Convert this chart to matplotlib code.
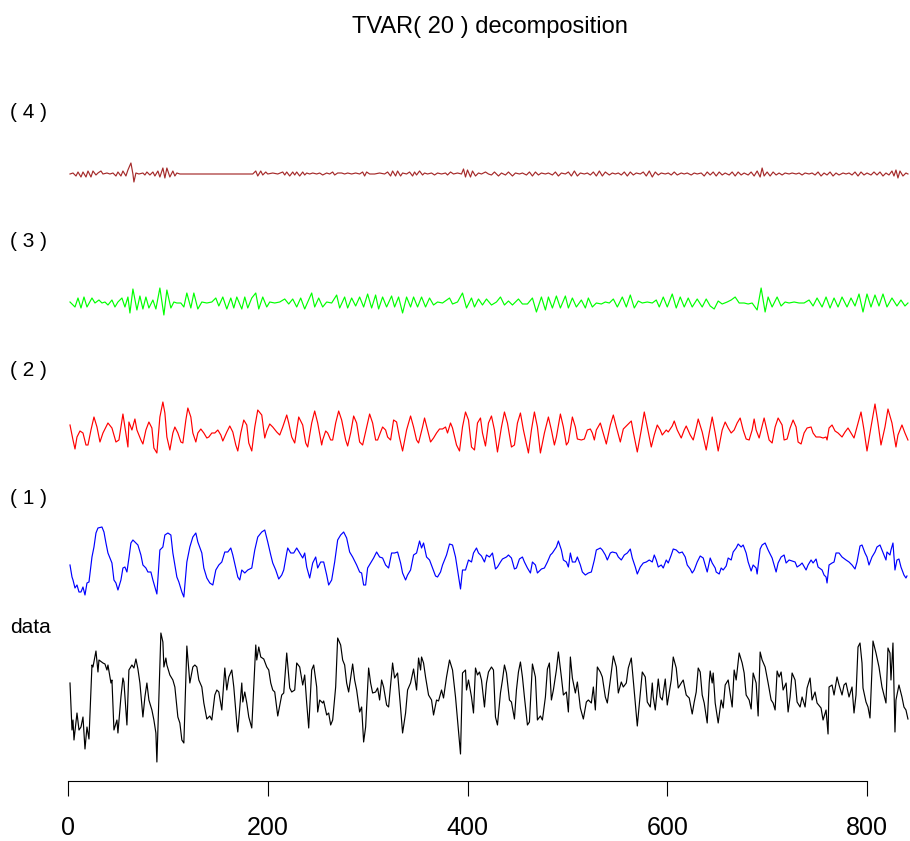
import matplotlib
matplotlib.use("Agg")
import matplotlib.pyplot as plt

# ---------------- data ----------------
tick_values = [0, 200, 400, 600, 800]
tick_labels = ["0", "200", "400", "600", "800"]
series_labels = ["data", "( 1 )", "( 2 )", "( 3 )", "( 4 )"]
title_text = "TVAR( 20 ) decomposition"

data_t = [2,4,5,6,9,11,13,15,17,19,21,24,25,28,30,31,35,37,39,40,43,44,46,49,50,53,55,56,59,61,64,66,68,70,72,75,77,79,81,84,86,88,89,93,95,96,98,99,102,105,107,110,112,114,116,119,122,125,127,129,131,134,136,139,142,144,147,149,151,154,157,159,161,164,166,169,170,174,175,177,179,181,184,188,189,191,193,196,199,201,203,205,207,210,214,216,219,222,224,227,229,232,235,237,239,241,244,246,249,250,252,255,256,259,261,263,265,268,270,273,275,277,279,281,285,287,289,292,294,296,298,301,303,305,308,310,312,314,316,319,321,325,327,330,333,335,338,340,343,346,349,351,353,354,356,358,361,364,366,369,371,374,376,379,382,385,388,390,393,395,398,399,401,404,406,408,410,412,414,417,419,421,424,426,428,430,433,435,437,439,442,444,447,449,451,453,455,457,460,462,465,468,470,473,475,478,480,482,484,486,489,491,494,496,499,501,503,505,508,510,513,516,519,521,524,526,528,530,533,535,538,540,543,546,549,551,554,556,559,561,564,566,568,570,573,575,578,580,583,585,586,588,591,593,595,598,600,604,606,609,611,614,616,619,622,625,627,629,631,633,635,637,640,642,643,645,646,648,651,654,656,658,661,665,667,669,672,675,677,679,682,684,686,689,691,693,695,698,701,704,706,708,710,712,714,716,719,721,723,725,728,730,733,735,738,740,743,745,748,750,754,756,759,761,762,765,767,770,772,775,777,779,782,785,787,789,791,793,795,796,799,801,803,805,806,809,812,815,819,821,823,824,826,828,829,832,835,837,839,841]
data_v = [17,-30,-20,-40,-13,-30,-27,-17,-49,-27,-39,35,33,49,28,40,37,36,30,35,17,20,-30,-20,-33,3,22,18,-25,30,35,32,41,31,17,-17,3,17,0,-10,-20,-33,-62,67,58,33,42,35,25,20,13,-17,-23,-40,-43,54,17,33,35,33,20,13,-3,-19,-16,-20,5,10,8,-10,32,10,23,30,13,-23,-32,17,-2,8,-3,-17,-28,55,40,53,43,41,33,30,17,10,8,-16,5,7,47,12,8,10,37,33,15,25,-3,-28,30,35,13,-12,0,-3,-1,-15,-13,-25,-20,13,62,55,40,35,17,8,36,20,10,-12,-7,-42,-27,32,17,7,8,12,0,20,13,-5,-7,37,22,27,-8,-33,-13,10,17,31,10,42,30,43,37,23,5,0,-15,0,-1,10,2,23,40,30,3,-20,-54,27,30,10,20,3,-13,32,25,28,20,-7,17,28,33,30,-17,-25,7,20,35,27,0,-2,-19,10,28,38,23,3,-25,-22,36,23,-20,-16,-20,3,31,37,0,10,30,48,23,5,8,-12,43,22,7,18,-8,-19,-2,0,-3,13,-10,33,28,23,3,-3,20,44,33,7,18,13,17,32,42,20,-3,-26,7,28,23,-2,-7,17,3,-10,21,3,0,21,-5,20,43,32,12,17,20,5,2,-14,-2,8,32,28,5,-3,-23,17,29,17,27,-3,-23,0,-8,15,20,-7,30,20,47,37,27,5,0,-9,27,17,-16,48,40,33,17,0,-3,-10,29,23,28,10,17,-12,3,27,20,-2,-7,3,-7,12,22,0,8,-3,-8,-20,-10,-34,13,15,5,23,15,5,15,17,3,13,-13,5,53,57,37,12,-2,-7,-18,31,59,47,33,13,-3,52,47,20,57,-32,0,15,3,-7,-10,-19]

c1_t = [2,4,5,7,9,11,13,15,17,19,21,24,26,28,30,34,36,38,40,44,46,48,50,53,55,57,59,61,63,65,68,70,73,75,78,80,83,85,87,89,92,95,97,100,103,105,109,111,114,116,119,122,125,128,130,134,136,139,142,145,148,151,154,157,160,163,165,168,170,172,174,177,180,184,187,190,194,197,200,203,205,208,211,214,216,219,220,223,226,229,232,235,237,239,242,245,248,250,253,256,259,261,264,267,270,273,276,279,282,285,289,292,294,296,298,300,303,306,309,312,315,318,321,324,327,330,333,335,338,340,343,346,349,352,354,356,359,362,365,368,370,373,375,379,382,385,388,390,393,395,398,401,404,406,409,411,414,417,419,422,425,428,430,433,435,439,441,444,447,449,452,455,457,460,463,465,468,470,474,477,480,483,485,489,491,494,496,499,501,503,505,508,510,513,515,518,521,524,527,529,533,535,538,540,543,545,549,551,554,557,560,563,565,568,570,573,576,579,582,585,587,589,591,594,596,599,601,604,606,609,612,615,618,620,623,625,627,630,633,636,638,640,643,645,648,649,652,654,656,659,661,664,666,669,671,674,676,679,681,684,686,689,690,693,695,698,701,705,707,709,711,714,717,719,722,725,728,730,733,735,739,741,744,746,749,751,755,757,759,760,762,765,767,769,772,775,779,782,785,788,790,793,795,798,800,802,805,808,810,813,815,819,820,823,824,826,828,830,832,834,837,839,840]
c1_v = [5,-7,-10,-18,-15,-22,-22,-17,-25,-13,-12,13,23,37,42,43,38,27,17,7,-10,-13,-20,-10,2,3,-2,12,27,30,27,25,15,5,2,-2,-2,-10,-17,-24,20,23,35,37,35,17,-7,-12,-22,-27,8,23,33,37,28,17,2,-8,-13,-15,0,5,8,18,18,22,15,2,-7,-10,0,-3,0,2,20,33,38,40,28,15,7,0,-9,-5,0,17,22,17,17,22,17,12,17,3,-8,7,13,2,8,8,-5,-15,-10,8,30,35,38,32,18,13,5,-2,-3,-15,-15,2,7,12,18,13,12,5,2,17,17,18,7,-3,-10,-5,0,15,17,29,22,27,13,10,2,-6,-7,-2,5,15,26,25,13,0,-19,0,0,10,8,17,22,17,14,8,15,13,17,1,3,8,11,13,15,12,1,2,11,13,8,2,-3,8,5,-3,1,2,8,15,17,23,29,20,10,8,3,17,8,8,13,5,-2,-5,-3,-2,10,20,22,20,15,10,17,18,17,13,10,15,17,21,12,3,-4,3,7,8,10,8,15,10,3,5,2,10,7,15,21,20,17,18,13,5,1,-3,0,8,14,12,5,-2,12,7,2,-2,-4,2,0,4,12,10,18,22,26,23,25,17,8,-1,5,2,-4,21,25,27,20,12,5,-2,7,13,15,7,10,9,8,3,5,7,0,5,10,7,11,3,0,-5,-7,-13,5,7,8,17,17,13,10,8,5,1,8,24,25,17,13,5,13,18,23,25,20,10,18,15,20,27,0,10,11,3,-5,-8,-6]

c2_t = [2,5,7,9,12,15,18,20,23,26,29,32,35,40,44,48,51,55,57,60,61,64,67,69,73,75,78,81,84,86,89,92,95,97,99,102,105,107,110,113,115,118,120,123,125,128,130,133,136,139,141,144,147,150,153,155,159,162,165,168,170,173,176,179,181,184,187,190,194,197,199,202,205,209,212,215,219,221,224,227,231,235,238,240,244,247,250,254,255,258,260,263,265,268,271,274,278,280,283,286,289,292,295,299,302,305,308,310,313,315,318,320,323,326,329,332,335,339,343,346,349,351,355,357,360,363,366,369,372,375,378,380,383,385,389,392,395,398,401,404,407,410,413,415,418,421,424,427,430,434,437,440,444,447,450,453,456,461,464,467,470,473,477,481,484,487,489,493,496,499,501,505,508,510,514,517,520,523,525,527,529,533,535,539,543,546,549,553,556,559,564,566,570,574,577,580,584,587,590,593,595,599,601,605,607,610,614,617,619,623,626,629,631,635,639,642,645,648,651,655,658,661,664,667,670,673,676,679,682,685,687,689,692,695,697,699,702,705,708,711,715,717,720,723,726,729,731,734,737,740,744,746,749,753,756,759,760,762,765,768,771,775,778,781,784,787,790,794,797,800,804,808,811,814,818,821,825,829,831,835,838,841]
c2_v = [5,-10,-19,-7,-1,-3,-15,-15,0,13,3,-12,-3,7,2,-12,-10,16,3,-17,8,0,11,0,-10,-14,0,8,2,-18,-23,13,28,17,-7,-20,-3,3,-3,-12,-13,10,22,13,-3,-12,-3,1,-3,-8,-7,-3,-3,0,-5,-11,-2,4,-2,-15,-21,-3,10,5,-13,-21,3,20,15,-8,-1,6,3,-2,-5,3,15,7,-7,-13,13,5,-13,-17,7,19,7,-15,-10,-1,-3,-10,-10,7,19,10,-10,-16,-3,14,7,-12,-15,3,16,7,-10,-10,-2,3,0,-7,-10,10,8,-8,-21,0,14,3,-10,-13,3,12,0,-12,-8,-3,1,1,3,-3,7,2,-15,-21,3,18,10,-17,-20,7,12,-3,-16,7,14,0,-22,3,18,7,-17,-15,7,17,0,-23,0,18,3,-23,-3,13,0,-15,-7,16,3,-15,-12,13,3,-9,-10,-9,0,1,-3,-10,0,7,0,-14,5,15,3,-12,1,4,9,-2,-22,0,18,3,-17,-5,5,0,-5,0,-2,4,9,0,-8,0,4,-5,-10,2,11,-2,-20,-3,13,-3,-21,0,8,2,-3,0,7,12,0,-9,-10,0,11,0,-8,4,12,3,-10,-13,3,12,5,-10,-9,2,10,3,-12,-14,-3,2,3,-3,-7,-7,-8,-7,-10,2,5,-1,-3,-7,-2,2,-3,-8,3,18,0,-21,3,26,7,-15,3,21,7,-17,-5,5,-3,-10]

c3_t = [2,7,10,13,16,19,24,27,31,34,37,40,44,47,50,54,57,60,62,65,69,72,75,78,81,85,88,92,96,99,103,106,109,113,116,119,123,126,130,134,139,144,148,151,155,159,163,166,169,174,177,180,184,188,191,195,199,202,207,212,217,221,225,229,233,237,244,247,251,255,259,264,269,272,277,280,284,288,292,296,300,304,308,311,315,319,324,327,331,335,339,343,346,350,354,358,362,366,370,375,382,385,390,395,399,404,407,411,415,419,424,429,433,437,441,445,451,455,460,465,469,474,478,481,485,489,493,498,501,505,509,514,518,521,525,529,534,538,542,546,550,555,559,563,567,571,575,580,585,589,592,596,600,605,609,613,617,621,625,630,635,639,643,647,651,655,660,664,668,672,677,681,685,690,694,698,701,705,710,714,718,722,727,732,737,742,746,750,755,759,763,767,771,775,780,784,788,792,796,800,804,808,812,816,820,825,830,834,838,841]
c3_v = [1,-4,5,-5,6,-4,5,0,3,0,1,-2,3,-4,1,5,-4,6,-10,14,-7,7,-6,6,-5,3,-6,15,-12,13,-5,1,0,0,-4,10,-5,10,-6,1,0,1,5,-3,6,-6,5,-5,6,-6,6,-5,5,10,-6,6,-4,1,0,1,4,-1,4,-4,5,-6,10,-4,5,-4,1,0,8,-5,6,-5,5,-3,6,-4,9,-5,8,-6,6,-4,7,-4,6,-10,6,-4,6,-4,6,-4,5,-2,1,0,5,-1,1,10,-5,5,-4,4,-2,4,-2,1,6,-2,2,-2,4,-1,-1,5,-9,6,-7,6,-5,7,-5,7,-5,5,-4,3,-5,5,-4,0,-1,1,0,4,-4,6,-4,8,-5,2,0,1,0,3,-4,6,-4,9,-5,6,-4,5,-4,4,-4,4,-3,-6,2,-1,1,3,6,0,0,-1,0,-7,15,-9,6,-4,6,-3,1,0,1,0,0,3,-3,5,-4,6,-5,5,-4,6,-4,5,-3,9,-9,9,-4,8,-3,9,-4,5,-3,3,-3,0]

c4_t = [2,5,8,10,13,15,18,20,23,25,28,30,33,35,39,42,45,48,50,53,55,58,60,63,65,66,68,71,75,77,79,82,85,87,90,92,95,97,99,102,105,107,109,112,185,188,190,193,195,198,200,205,210,215,217,219,222,225,227,229,232,235,237,239,242,245,249,252,255,259,262,265,267,270,274,277,280,284,288,292,295,297,299,302,307,312,317,320,323,325,328,330,333,335,339,342,345,347,349,352,355,357,360,364,367,370,374,378,380,383,386,390,394,396,398,400,403,405,408,411,414,418,421,424,427,431,434,438,441,445,448,452,455,459,462,465,468,471,474,478,481,485,488,491,494,498,501,504,507,510,513,517,520,523,526,529,532,535,538,542,545,548,551,554,557,560,563,566,569,573,576,579,582,585,588,591,594,598,601,604,607,610,614,617,620,624,627,630,634,637,640,643,646,649,652,655,658,662,665,668,671,674,677,681,684,687,690,693,695,697,700,703,706,709,712,715,718,722,725,729,732,735,738,742,745,748,751,754,757,760,763,766,769,772,776,779,782,785,788,791,794,797,800,804,807,810,813,816,819,822,825,827,829,831,833,836,839,841]
c4_v = [0,1,-2,2,-3,2,-3,3,-3,3,-1,1,3,0,1,0,1,-2,2,-2,3,-2,4,11,0,-8,1,0,1,-1,2,-1,2,-2,3,-3,6,-4,6,-3,3,-2,1,0,0,3,-2,3,-1,2,0,1,0,2,-1,2,-2,2,-1,2,-2,2,-1,1,0,1,0,1,-1,1,0,2,-1,1,1,0,1,0,1,0,2,-2,2,0,0,1,0,2,-2,3,-2,3,-2,1,0,2,-2,2,-1,3,-1,1,0,1,-1,1,0,1,-1,2,0,1,0,5,-3,4,-3,3,-2,1,0,2,0,-1,2,-2,1,-1,2,-2,1,0,1,-1,2,-2,2,-1,1,0,1,-1,2,-2,1,0,2,-2,3,-2,1,0,1,-1,2,-2,3,-2,2,-1,1,0,1,-1,2,-2,2,-1,1,0,2,-2,3,-3,2,-1,1,0,1,-1,2,-1,1,0,1,-1,1,0,1,-2,2,-1,2,-2,2,-1,1,-1,2,-2,2,-1,1,-1,2,-2,3,-3,6,-2,2,-2,2,-1,1,-1,1,0,1,0,1,-1,1,0,1,-1,2,-2,1,-1,2,-2,1,-1,1,0,1,-1,2,-2,2,-1,1,-1,2,-1,2,-2,1,-1,3,-2,4,-4,3,-2,1,0]

# ---------------- figure ----------------
W, H, DPI = 910, 841, 100
fig = plt.figure(figsize=(W / DPI, H / DPI), dpi=DPI)
fig.patch.set_facecolor("white")

fam = ["Liberation Sans", "DejaVu Sans"]

x0_px, px_per_unit = 68.0, 799.0 / 800.0
ax = fig.add_axes([0, 0, 1, 1])
ax.set_xlim(-x0_px / px_per_unit, (W - x0_px) / px_per_unit)
ax.set_ylim(0, H)
ax.set_facecolor("white")

# vertical position of each component's baseline (figure pixel rows, counted from the bottom)
layers = [
    (data_t, data_v, "black", H - 700),
    (c1_t, c1_v, "#0000FF", H - 570),
    (c2_t, c2_v, "#FF0000", H - 430),
    (c3_t, c3_v, "#00FF00", H - 303),
    (c4_t, c4_v, "#A52A2A", H - 174),
]
for t, v, col, base in layers:
    ax.plot(t, [base + val for val in v], color=col, lw=0.85, solid_joinstyle="round")

for s in ["top", "right", "left"]:
    ax.spines[s].set_visible(False)
ax.spines["bottom"].set_position(("data", H - 780.5))
ax.spines["bottom"].set_bounds(0, 800)
ax.spines["bottom"].set_linewidth(0.8)
ax.set_yticks([])
ax.set_xticks(tick_values)
ax.set_xticklabels(tick_labels, fontsize=18, family=fam)
ax.tick_params(axis="x", direction="out", length=10.5, width=0.8, pad=15)

fig.text(490 / W, 1 - 33 / H, title_text, ha="center", va="baseline", fontsize=17, family=fam)

label_baselines = [633, 504, 376, 247, 118]
for lab, yb in zip(series_labels, label_baselines):
    fig.text(10 / W, 1 - yb / H, lab, ha="left", va="baseline", fontsize=15, family=fam)

fig.savefig("out.png", dpi=DPI, facecolor="white")
